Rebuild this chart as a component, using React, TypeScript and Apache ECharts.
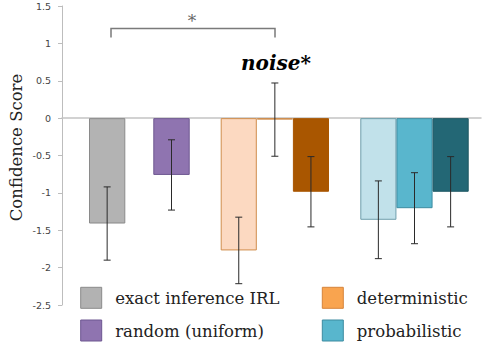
import React, { useEffect, useRef } from "react";
import * as echarts from "echarts";

// ---- data ----
const groupNames = ["exact inference IRL", "random (uniform)", "deterministic", "probabilistic"];
const singleCat = ["all"];
const levelCats = ["level 1", "level 2", "level 3"];

const exactMean = [-1.41];
const exactErr = [0.49];
const randomMean = [-0.76];
const randomErr = [0.47];
const detMean = [-1.77, -0.02, -0.985];
const detErr = [0.445, 0.49, 0.47];
const probMean = [-1.36, -1.205, -0.985];
const probErr = [0.52, 0.475, 0.47];

const yMin = -2.5;
const yMax = 1.5;
const yStep = 0.5;

const axisName = "Confidence Score";
const bracketLabel = "*";
const noiseLabel = "noise*";

// ---- styles ----
const SERIF = "DejaVu Serif";
const exactStyle = { color: "#b3b3b3", borderColor: "#8a8a8a" };
const randomStyle = { color: "#8f74b0", borderColor: "#6e5891" };
const detStyles = [
  { color: "#fcd9c1", borderColor: "#d08d4c" },
  { color: "#ffffff", borderColor: "#cd8a47" },
  { color: "#a95600", borderColor: "#a95600" },
];
const probStyles = [
  { color: "#c1e1ea", borderColor: "#6f9fac" },
  { color: "#59b6cd", borderColor: "#3d8ca1" },
  { color: "#236775", borderColor: "#1d5662" },
];
const legendStyles = [
  { color: "#b2b2b2", borderColor: "#8a8a8a" },
  { color: "#8f74b0", borderColor: "#6d5690" },
  { color: "#f9a44f", borderColor: "#d6843a" },
  { color: "#58b6cd", borderColor: "#3c8ba0" },
];
// legend layout: [box left, box top] per entry
const legendSlots = [
  [80.7, 287.3],
  [80.7, 320],
  [322.3, 287.3],
  [322.3, 320],
];

const TOP = 6;
const BOTTOM = 39;

export default function App() {
  const ref = useRef<HTMLDivElement>(null);

  useEffect(() => {
    if (!ref.current) return;
    document.body.style.margin = "0";
    const chart = echarts.init(ref.current, undefined, { renderer: "svg" });

    const groupGrids = [
      { left: 89, width: 36.3 },
      { left: 153.3, width: 36.4 },
      { left: 220.7, width: 108.3 },
      { left: 360.3, width: 108.4 },
    ];

    const grids: any[] = [{ left: 62, right: 2, top: TOP, bottom: BOTTOM }];
    groupGrids.forEach((g) => grids.push({ left: g.left, width: g.width, top: TOP, bottom: BOTTOM }));

    const xAxes: any[] = [
      {
        type: "category",
        gridIndex: 0,
        data: [""],
        axisLine: { show: true, onZero: true, lineStyle: { color: "#c4c4c4", width: 1.5 } },
        axisTick: { show: false },
        axisLabel: { show: false },
        splitLine: { show: false },
      },
    ];
    const yAxes: any[] = [
      {
        type: "value",
        gridIndex: 0,
        min: yMin,
        max: yMax,
        interval: yStep,
        axisLine: { show: true, lineStyle: { color: "#bdbdbd", width: 1 } },
        axisTick: { show: true, inside: false, length: 4, lineStyle: { color: "#bdbdbd" } },
        splitLine: { show: false },
        axisLabel: {
          margin: 11,
          color: "#444",
          fontFamily: "DejaVu Sans",
          fontSize: 9.5,
          formatter: (v: number) => String(v),
        },
      },
    ];

    const cats = [singleCat, singleCat, levelCats, levelCats];
    for (let i = 0; i < 4; i++) {
      xAxes.push({
        type: "category",
        gridIndex: i + 1,
        data: cats[i],
        show: false,
        boundaryGap: true,
      });
      yAxes.push({
        type: "value",
        gridIndex: i + 1,
        min: yMin,
        max: yMax,
        interval: yStep,
        show: false,
        splitLine: { show: false },
      });
    }

    const means = [exactMean, randomMean, detMean, probMean];
    const errs = [exactErr, randomErr, detErr, probErr];
    const styles = [[exactStyle], [randomStyle], detStyles, probStyles];

    const series: any[] = [];
    for (let i = 0; i < 4; i++) {
      series.push({
        type: "bar",
        name: groupNames[i],
        xAxisIndex: i + 1,
        yAxisIndex: i + 1,
        barWidth: "100%",
        barGap: "0%",
        barCategoryGap: "0%",
        itemStyle: { ...styles[i][0], borderWidth: 1 },
        data: means[i].map((v, k) => ({
          value: v,
          itemStyle: { ...styles[i][k], borderWidth: 1 },
        })),
        z: 2,
      });
      series.push({
        type: "custom",
        name: groupNames[i] + " error",
        xAxisIndex: i + 1,
        yAxisIndex: i + 1,
        z: 5,
        data: means[i].map((v, k) => [k, v, errs[i][k]]),
        encode: { x: 0, y: 1 },
        renderItem: (params: any, api: any) => {
          const x = api.value(0);
          const m = api.value(1);
          const e = api.value(2);
          const top = api.coord([x, m + e]);
          const bot = api.coord([x, m - e]);
          const hw = 3.5;
          const st = { stroke: "#2a2a2a", lineWidth: 1 };
          return {
            type: "group",
            children: [
              { type: "line", shape: { x1: top[0], y1: top[1], x2: bot[0], y2: bot[1] }, style: st },
              { type: "line", shape: { x1: top[0] - hw, y1: top[1], x2: top[0] + hw, y2: top[1] }, style: st },
              { type: "line", shape: { x1: bot[0] - hw, y1: bot[1], x2: bot[0] + hw, y2: bot[1] }, style: st },
            ],
          };
        },
      });
    }

    const legendGraphics: any[] = [];
    groupNames.forEach((name, i) => {
      const [lx, ly] = legendSlots[i];
      legendGraphics.push({
        type: "rect",
        shape: { x: lx, y: ly, width: 21, height: 21 },
        style: { fill: legendStyles[i].color, stroke: legendStyles[i].borderColor, lineWidth: 1 },
      });
      legendGraphics.push({
        type: "text",
        x: lx + 34.5,
        y: ly + 11,
        style: {
          text: name,
          fontFamily: SERIF,
          fontSize: 16.5,
          fill: "#222",
          align: "left",
          verticalAlign: "middle",
        },
      });
    });

    chart.setOption({
      animation: false,
      grid: grids,
      xAxis: xAxes,
      yAxis: yAxes,
      graphic: [
        {
          type: "text",
          x: 16,
          y: 147.5,
          rotation: Math.PI / 2,
          style: {
            text: axisName,
            fontFamily: SERIF,
            fontSize: 16.5,
            fill: "#222",
            align: "center",
            verticalAlign: "middle",
          },
        },
        {
          type: "polyline",
          shape: { points: [[111, 37.5], [111, 28.5], [275, 28.5], [275, 37.5]] },
          style: { stroke: "#7a7a7a", lineWidth: 1.5, fill: null },
        },
        {
          type: "text",
          x: 192,
          y: 21,
          style: {
            text: bracketLabel,
            fontFamily: SERIF,
            fontSize: 17,
            fill: "#666666",
            align: "center",
            verticalAlign: "middle",
          },
        },
        {
          type: "text",
          x: 241,
          y: 63,
          style: {
            text: noiseLabel,
            fontFamily: SERIF,
            fontStyle: "italic",
            fontWeight: "bold",
            fontSize: 20,
            fill: "#000",
            align: "left",
            verticalAlign: "middle",
          },
        },
        ...legendGraphics,
      ],
      series,
    });

    return () => chart.dispose();
  }, []);

  return <div ref={ref} style={{ width: 483, height: 344 }} />;
}
